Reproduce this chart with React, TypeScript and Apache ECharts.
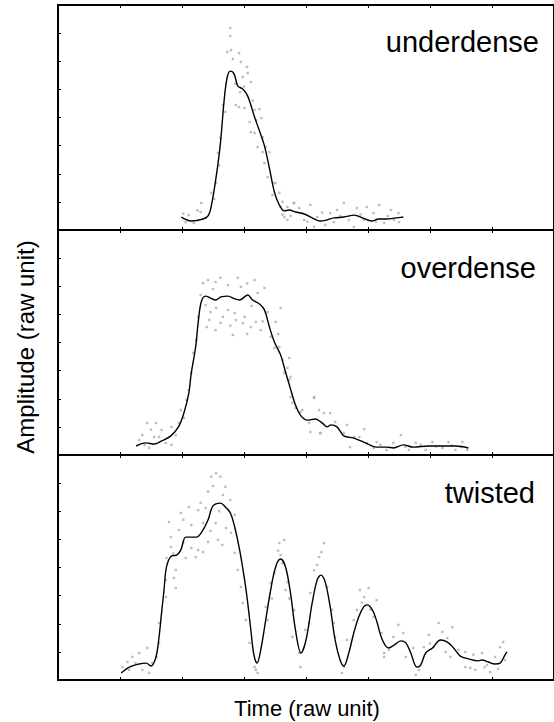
import React, { useEffect, useRef } from "react";
import * as echarts from "echarts";

const panelNames = ["underdense", "overdense", "twisted"];
const xTickCount = 8;
const yTickCount = 8;

const underdenseLine = [
  [1.99, 0.46], [2.15, 0.32], [2.34, 0.39], [2.42, 0.5], [2.47, 0.82], [2.55, 1.88], [2.62, 3.09],
  [2.68, 4.62], [2.73, 5.44], [2.78, 5.65], [2.84, 5.55], [2.9, 5.12], [2.98, 5.01], [3.06, 4.76],
  [3.17, 4.02], [3.25, 3.52], [3.33, 2.99], [3.41, 2.2], [3.49, 1.35], [3.57, 0.89], [3.65, 0.68],
  [3.73, 0.71], [3.83, 0.64], [3.97, 0.57], [4.1, 0.43], [4.23, 0.32], [4.34, 0.36], [4.45, 0.43],
  [4.61, 0.46], [4.78, 0.53], [4.91, 0.43], [5.06, 0.32], [5.17, 0.39], [5.3, 0.39], [5.45, 0.43],
  [5.57, 0.46],
];
const underdenseDots = [
  [2.78, 7.18], [2.78, 6.9], [2.79, 6.4], [2.73, 6.33], [2.82, 6.08], [2.92, 6.29], [2.95, 5.97],
  [3.05, 5.8], [3.06, 5.58], [2.98, 5.44], [3.11, 5.26], [2.87, 4.44], [2.92, 4.37], [3.01, 4.34],
  [3.17, 4.27], [3.25, 4.3], [3.09, 3.84], [3.11, 3.48], [3.17, 3.45], [3.28, 3.98], [3.22, 2.95],
  [3.3, 2.77], [3.35, 2.95], [3.33, 2.38], [3.38, 1.88], [3.48, 1.67], [3.46, 1.24], [3.57, 1.32],
  [3.59, 0.82], [3.65, 0.46], [3.7, 0.36], [3.8, 0.96], [2.66, 4.44], [2.7, 4.2], [2.62, 3.27],
  [2.58, 2.74], [2.55, 1.67], [2.47, 1.32], [2.31, 0.96], [2.3, 0.64], [2.11, 0.53], [2.06, 0.28],
  [2.38, 0.43], [2.19, 0.25], [3.41, 2.77], [3.51, 1.67], [3.62, 1.0], [3.7, 0.82], [3.81, 0.96],
  [3.89, 0.78], [3.97, 0.36], [4.07, 0.89], [4.18, 0.46], [4.31, 0.18], [4.39, 0.6], [4.5, 0.71],
  [4.61, 0.96], [4.69, 0.36], [4.82, 0.78], [4.93, 0.36], [4.98, 0.82], [5.09, 0.6], [5.18, 0.89],
  [5.26, 0.25], [5.37, 0.71], [5.49, 0.6], [5.5, 0.28], [4.77, 0.11], [4.13, 0.11],
  [2.86, 5.2], [2.94, 4.9], [3.0, 5.1], [3.14, 4.6], [3.2, 3.9], [3.3, 3.3], [2.6, 2.3], [2.52, 1.1],
  [2.25, 0.7], [2.02, 0.58], [3.62, 0.55], [3.75, 0.5], [3.92, 0.6], [4.02, 0.3], [4.26, 0.62],
  [4.45, 0.28], [4.55, 0.5], [4.88, 0.55], [5.13, 0.3], [5.32, 0.5], [5.42, 0.36],
];

const overdenseLine = [
  [1.26, 0.32], [1.42, 0.43], [1.55, 0.39], [1.67, 0.5], [1.82, 0.68], [1.95, 1.03], [2.03, 1.49],
  [2.11, 2.2], [2.15, 2.92], [2.22, 3.84], [2.26, 4.69], [2.31, 5.44], [2.38, 5.65], [2.46, 5.58],
  [2.54, 5.51], [2.63, 5.62], [2.74, 5.65], [2.85, 5.55], [2.93, 5.51], [3.06, 5.69], [3.14, 5.51],
  [3.25, 5.37], [3.33, 5.16], [3.41, 4.55], [3.49, 4.02], [3.59, 3.56], [3.67, 2.95], [3.75, 2.35],
  [3.83, 1.78], [3.91, 1.42], [4.02, 1.24], [4.15, 1.28], [4.26, 1.14], [4.34, 1.0], [4.4, 1.07],
  [4.5, 1.0], [4.61, 0.68], [4.77, 0.6], [4.93, 0.46], [5.14, 0.28], [5.3, 0.28], [5.41, 0.25],
  [5.57, 0.36], [5.73, 0.28], [5.98, 0.32], [6.25, 0.32], [6.41, 0.32], [6.62, 0.25],
];
const overdenseDots = [
  [2.34, 6.11], [2.42, 6.22], [2.54, 6.15], [2.74, 6.04], [2.95, 5.98], [3.17, 6.22], [3.33, 5.94],
  [3.22, 5.76], [2.3, 5.69], [2.38, 5.33], [2.46, 5.08], [2.55, 5.23], [2.66, 4.91], [2.74, 5.16],
  [2.85, 5.05], [2.87, 4.8], [2.54, 4.44], [2.82, 4.27], [2.98, 4.69], [3.01, 4.91], [3.11, 4.55],
  [3.19, 4.73], [3.27, 4.44], [3.38, 5.08], [3.51, 4.73], [3.59, 5.23], [3.43, 4.2], [3.49, 3.8],
  [3.57, 3.84], [3.62, 3.38], [3.65, 2.92], [3.73, 2.67], [3.75, 2.06], [3.83, 1.67], [3.94, 1.6],
  [4.13, 2.06], [4.05, 1.14], [4.07, 0.82], [4.23, 0.78], [4.29, 1.49], [2.26, 4.91], [2.23, 4.09],
  [2.18, 3.63], [2.15, 2.92], [2.11, 2.31], [2.07, 1.96], [1.98, 1.6], [2.03, 1.32], [1.95, 1.14],
  [1.83, 1.0], [1.67, 0.89], [1.58, 1.14], [1.63, 0.64], [1.74, 0.43], [1.44, 1.14], [1.36, 0.71],
  [1.31, 0.53], [1.47, 0.25], [1.83, 0.36], [1.55, 0.64], [3.73, 3.45], [3.75, 2.77], [3.78, 1.85],
  [3.91, 1.53], [4.13, 2.03], [4.21, 1.6], [4.23, 0.78], [4.39, 1.49], [4.47, 1.17], [4.61, 0.78],
  [4.66, 1.07], [4.71, 0.28], [4.78, 0.64], [4.94, 0.92], [4.98, 0.43], [5.14, 0.46], [5.3, 0.18],
  [5.41, 0.43], [5.53, 0.71], [5.66, 0.18], [5.77, 0.43], [5.93, 0.18], [6.04, 0.46], [6.2, 0.25],
  [6.3, 0.46], [6.41, 0.18], [6.52, 0.46], [6.6, 0.18], [4.86, 0.64], [5.09, 0.25],
  [2.5, 5.9], [2.62, 6.3], [2.9, 6.3], [3.05, 6.1], [3.12, 5.3], [2.78, 4.6], [2.62, 4.7], [2.44, 4.8],
  [3.3, 4.75], [3.05, 4.3], [2.4, 4.55], [3.55, 4.3], [3.7, 3.1], [1.9, 0.7], [1.5, 0.9], [1.4, 0.35],
  [5.2, 0.36], [5.6, 0.3], [5.85, 0.36], [6.1, 0.3], [6.35, 0.34], [6.5, 0.3],
];

const twistedLine = [
  [1.02, 0.25], [1.15, 0.46], [1.31, 0.57], [1.42, 0.6], [1.5, 0.5], [1.58, 0.82], [1.63, 1.53],
  [1.67, 2.38], [1.71, 3.2], [1.75, 4.02], [1.83, 4.41], [1.91, 4.44], [1.98, 4.62], [2.06, 5.08],
  [2.14, 5.08], [2.23, 5.08], [2.31, 5.23], [2.42, 5.69], [2.5, 6.19], [2.62, 6.29], [2.7, 6.15],
  [2.78, 5.94], [2.85, 5.44], [2.93, 4.62], [3.01, 3.56], [3.06, 2.74], [3.11, 1.78], [3.16, 0.89],
  [3.21, 0.6], [3.27, 1.07], [3.35, 2.13], [3.43, 3.2], [3.51, 4.02], [3.59, 4.3], [3.67, 4.02],
  [3.75, 3.09], [3.83, 1.78], [3.92, 0.96], [4.0, 1.42], [4.1, 2.74], [4.18, 3.56], [4.24, 3.73],
  [4.31, 3.48], [4.39, 2.6], [4.47, 1.42], [4.55, 0.71], [4.61, 0.5], [4.69, 0.96], [4.77, 1.67],
  [4.85, 2.24], [4.93, 2.6], [4.99, 2.67], [5.07, 2.49], [5.14, 2.1], [5.22, 1.49], [5.33, 1.14],
  [5.42, 1.24], [5.53, 1.39], [5.61, 1.32], [5.69, 0.96], [5.79, 0.46], [5.85, 0.53], [5.93, 0.96],
  [6.04, 1.14], [6.17, 1.42], [6.28, 1.35], [6.38, 1.14], [6.49, 0.85], [6.62, 0.75], [6.78, 0.68],
  [6.84, 0.71], [6.94, 0.64], [7.05, 0.57], [7.13, 0.6], [7.21, 0.89], [7.24, 1.0],
];
const twistedDots = [
  [2.55, 7.35], [2.62, 7.23], [2.47, 7.23], [2.7, 6.87], [2.42, 6.7], [2.66, 6.58], [2.78, 6.4],
  [2.38, 6.12], [2.11, 6.15], [2.26, 6.04], [1.98, 5.94], [1.79, 5.62], [2.15, 5.51], [2.34, 5.58],
  [2.54, 5.58], [2.71, 5.4], [2.79, 5.23], [2.85, 5.87], [1.95, 5.33], [1.82, 5.08], [2.42, 4.91],
  [2.58, 4.98], [2.15, 4.69], [2.26, 4.62], [2.34, 4.55], [2.06, 4.34], [2.22, 4.37], [1.82, 4.73],
  [1.75, 4.34], [1.9, 3.91], [1.87, 3.63], [1.74, 3.56], [1.9, 3.27], [1.74, 2.95], [2.85, 4.52],
  [2.9, 3.91], [2.95, 3.31], [2.98, 2.74], [3.03, 2.13], [3.09, 1.32], [3.19, 0.36], [1.63, 2.03],
  [1.63, 1.32], [1.59, 0.82], [1.44, 1.14], [1.31, 0.96], [1.2, 0.82], [1.12, 0.64], [1.15, 0.36],
  [1.36, 0.36], [1.47, 0.25], [1.04, 0.46], [1.52, 0.6], [3.57, 4.87], [3.65, 4.98], [3.59, 4.44],
  [3.49, 3.8], [3.43, 3.45], [3.7, 3.48], [3.67, 3.2], [3.38, 2.13], [3.35, 2.6], [3.81, 2.49],
  [3.78, 1.53], [3.89, 0.96], [3.91, 0.46], [3.17, 0.46], [3.22, 0.25], [4.29, 4.87], [4.21, 4.37],
  [4.18, 4.09], [4.34, 3.31], [4.07, 3.09], [4.05, 2.03], [3.99, 1.78], [4.45, 2.03], [4.47, 1.53],
  [4.66, 1.42], [4.58, 0.25], [4.61, 0.46], [4.87, 3.2], [5.01, 3.27], [4.94, 2.95], [4.82, 2.49],
  [4.77, 2.13], [5.14, 2.84], [5.09, 2.24], [5.26, 0.96], [5.34, 1.07], [5.41, 1.53], [5.22, 1.67],
  [5.26, 0.82], [5.49, 1.96], [5.57, 1.67], [5.61, 0.82], [5.73, 1.14], [5.77, 0.18], [5.82, 0.36],
  [5.9, 1.17], [5.98, 1.6], [6.06, 1.17], [6.14, 2.03], [6.2, 1.71], [6.28, 1.49], [6.36, 1.88],
  [6.33, 0.82], [6.46, 1.07], [6.57, 1.0], [6.65, 0.43], [6.73, 0.36], [6.84, 0.96], [6.92, 0.53],
  [6.97, 0.28], [7.05, 0.82], [7.13, 1.17], [7.18, 1.35], [7.21, 0.71], [6.57, 0.46],
  [2.02, 5.7], [2.3, 6.3], [2.5, 6.9], [2.6, 6.0], [2.46, 5.3], [2.02, 4.9], [1.86, 4.5], [2.65, 4.8],
  [3.55, 4.6], [3.62, 4.15], [4.25, 4.55], [4.13, 3.9], [3.45, 2.9], [3.73, 2.9], [4.42, 2.5],
  [4.9, 2.75], [5.04, 2.5], [6.0, 1.3], [6.25, 1.0], [6.7, 0.9], [6.88, 0.45], [7.1, 0.4], [1.25, 0.6],
];

const panelLines = [underdenseLine, overdenseLine, twistedLine];
const panelDots = [underdenseDots, overdenseDots, twistedDots];
const xAxisName = "Time (raw unit)";
const yAxisName = "Amplitude (raw unit)";

export default function App() {
  const ref = useRef<HTMLDivElement>(null);
  useEffect(() => {
    if (!ref.current) return;
    const chart = echarts.init(ref.current, undefined, { renderer: "svg" });
    const top0 = 5;
    const ph = 225;
    const grids = panelNames.map((_, i) => ({
      left: 58,
      right: -7,
      top: top0 + i * ph,
      height: ph,
      show: true,
      borderColor: "#000",
      borderWidth: 2,
      backgroundColor: "transparent",
      z: 10,
    }));
    const xAxes: any[] = [];
    const yAxes: any[] = [];
    panelNames.forEach((_, i) => {
      ["bottom", "top"].forEach((pos) => {
        xAxes.push({
          gridIndex: i,
          type: "value",
          position: pos,
          min: 0,
          max: xTickCount,
          interval: 1,
          axisLine: { show: false },
          axisTick: { show: true, inside: true, length: 3, lineStyle: { color: "#000", width: 1 } },
          axisLabel: { show: false },
          splitLine: { show: false },
        });
      });
      yAxes.push({
        gridIndex: i,
        type: "value",
        min: 0,
        max: yTickCount,
        interval: 1,
        axisLine: { show: false },
        axisTick: { show: true, inside: true, length: 3, lineStyle: { color: "#000", width: 1 } },
        axisLabel: { show: false },
        splitLine: { show: false },
      });
    });
    const series: any[] = [];
    panelNames.forEach((_, i) => {
      series.push({
        type: "scatter",
        xAxisIndex: i * 2,
        yAxisIndex: i,
        data: panelDots[i],
        symbol: "rect",
        symbolSize: 2.4,
        itemStyle: { color: "#adadad" },
        silent: true,
        z: 2,
      });
      series.push({
        type: "line",
        xAxisIndex: i * 2,
        yAxisIndex: i,
        data: panelLines[i],
        showSymbol: false,
        smooth: 0.35,
        lineStyle: { color: "#000", width: 1.4 },
        silent: true,
        z: 3,
      });
    });
    const labelYs = [42, 268, 493];
    const labelRights = [539, 536, 535];
    const graphic: any[] = panelNames.map((name, i) => ({
      type: "text",
      x: labelRights[i],
      y: labelYs[i],
      style: {
        text: name,
        fontSize: 29,
        fontFamily: "Liberation Sans, Arial, sans-serif",
        fill: "#000",
        textAlign: "right",
        textVerticalAlign: "middle",
      },
    }));
    graphic.push({
      type: "text",
      x: 307,
      y: 708,
      style: {
        text: xAxisName,
        fontSize: 22,
        fontFamily: "Liberation Sans, Arial, sans-serif",
        fill: "#000",
        textAlign: "center",
        textVerticalAlign: "middle",
      },
    });
    graphic.push({
      type: "text",
      x: 25,
      y: 347,
      rotation: Math.PI / 2,
      style: {
        text: yAxisName,
        fontSize: 24,
        fontFamily: "Liberation Sans, Arial, sans-serif",
        fill: "#000",
        textAlign: "center",
        textVerticalAlign: "middle",
      },
    });
    chart.setOption({
      animation: false,
      backgroundColor: "#fff",
      grid: grids,
      xAxis: xAxes,
      yAxis: yAxes,
      series,
      graphic,
    });
    return () => chart.dispose();
  }, []);
  return (
    <div
      ref={ref}
      style={{ position: "absolute", left: 0, top: 0, width: 554, height: 722 }}
    />
  );
}
